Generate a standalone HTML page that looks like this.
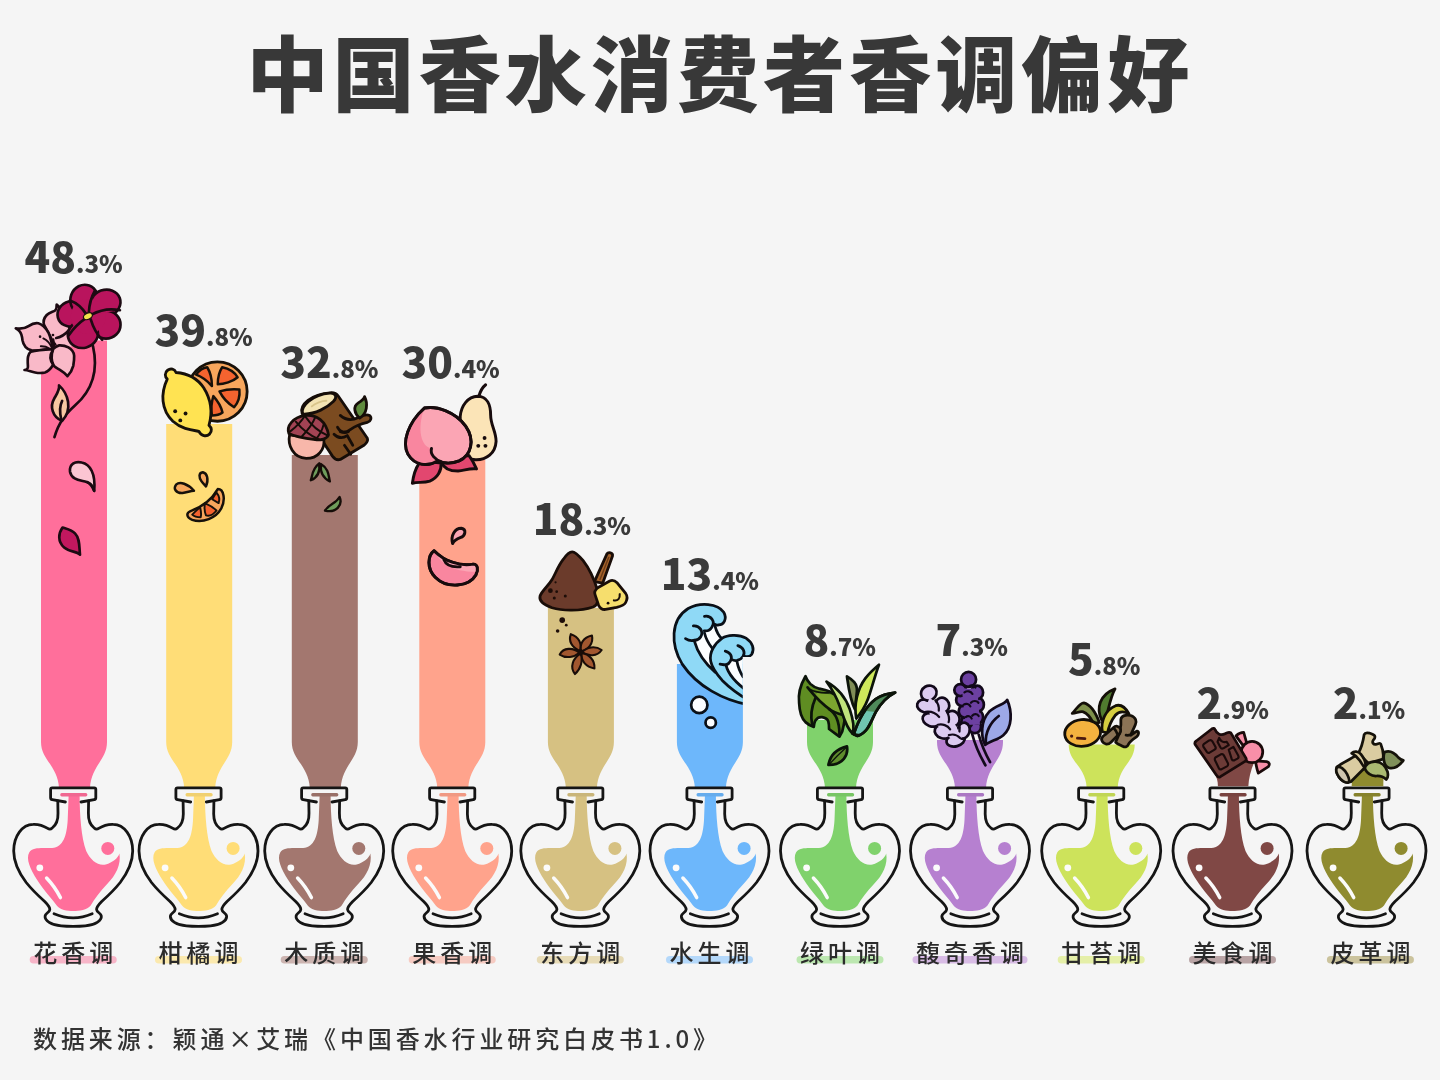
<!DOCTYPE html>
<html lang="zh-CN">
<head>
<meta charset="utf-8">
<title>中国香水消费者香调偏好</title>
<style>
html,body{margin:0;padding:0;background:#f5f5f5;}
body{width:1440px;height:1080px;overflow:hidden;position:relative;font-family:"Liberation Sans","Noto Sans CJK SC",sans-serif;}
svg{position:absolute;left:0;top:0;display:block;}
h1{position:absolute;left:0;top:0;width:1440px;margin:0;text-align:center;font-family:"Liberation Sans","Noto Sans CJK SC",sans-serif;font-weight:900;font-size:82px;line-height:120px;letter-spacing:4.1px;text-indent:0px;color:#383838;top:17.4px;white-space:nowrap;}
.foot{position:absolute;left:33px;top:1017.8px;margin:0;font-family:"Noto Sans CJK SC","Liberation Sans",sans-serif;font-weight:500;font-size:24px;line-height:40px;letter-spacing:3.9px;color:#333;white-space:nowrap;}
.lab{font-family:"Liberation Sans","Noto Sans CJK SC",sans-serif;font-weight:500;font-size:24px;letter-spacing:4px;fill:#2b2b2b;}
.num{font-family:"Noto Sans CJK SC","Liberation Sans",sans-serif;font-weight:900;fill:#3a3a3a;}
.big{font-size:42.3px;}
.sm{font-size:24px;}
</style>
</head>
<body>
<h1>中国香水消费者香调偏好</h1>
<svg width="1440" height="1080" viewBox="0 0 1440 1080">
<!-- 1 花香调 -->
<path transform="translate(74.0,0)" d="M-33,340.5 H33 V742 C33,760 17,766 16,788 H-15 C-16,766 -33,760 -33,742 Z" fill="#ff6f9b"/>
<g transform="translate(73.2,0)">
<path d="M-11.5,793 H12.6 Q14.2,793 14.2,794.8 Q14.2,796.6 12.6,796.6 H6.4 C6.6,815 8,838 13,851 C17,860 25,866.5 32.5,864.5 C39.5,862.5 45,858 46.2,853.5 C48,864 43,875 33.5,884.5 C27,891.5 21,899 17.5,905.5 C14,910 6,911 0,911 C-6,911 -13,910 -16.5,905.5 C-21,899 -29,891 -36,880 C-43,869 -47.5,859 -44,852.5 C-40,846.5 -30,848.5 -21,848 C-10,847 -6.5,836 -5.5,820 L-4.6,796.6 H-11.5 Q-13,796.6 -13,794.8 Q-13,793 -11.5,793 Z" fill="#ff6f9b"/>
<rect x="-13" y="793" width="27.2" height="3.6" rx="1.8" fill="#000" opacity="0.06"/>
<circle cx="34.6" cy="848.4" r="6.5" fill="#ff6f9b"/>
<circle cx="-33.4" cy="867.8" r="3.4" fill="#fbfbfb"/>
<path d="M-26.6,878 Q-18,887 -12.8,897.6" stroke="#fbfbfb" stroke-width="3.5" stroke-linecap="round" fill="none"/>
<path d="M-7.8,802 L-21,799.6 Q-22.6,799.3 -22.6,797.7 V789.4 Q-22.6,787.8 -21,787.8 H21 Q22.6,787.8 22.6,789.4 V797.7 Q22.6,799.3 21,799.6 L7.8,802" fill="none" stroke="#151515" stroke-width="2.8" stroke-linecap="round" stroke-linejoin="round"/>
<path d="M-15.4,801 L-15.2,813 C-15,820 -17,825 -21,828 C-22.5,829.4 -24,829.4 -25.5,828.4 C-30,825.6 -35,824.2 -40,824.4 C-51,824.5 -59.5,836 -59.5,851 C-59.5,862 -54.5,872.5 -47,882.5 C-41,890 -33.5,897 -28.5,901.5 C-25,905 -23.2,907 -23.4,909.6 C-23.7,912.5 -27.6,913 -28.1,916 C-28.7,920.5 -22,925.2 -12,925.9 C-8,926.3 -4,926.4 0,926.4 C4,926.4 8,926.3 12,925.9 C22,925.2 28.7,920.5 28.1,916 C27.6,913 23.7,912.5 23.4,909.6 C23.2,907 25,905 28.5,901.5 C33.5,897 41,890 47,882.5 C54.5,872.5 59.5,862 59.5,851 C59.5,836 51,824.5 40,824.4 C35,824.2 30,825.6 25.5,828.4 C24,829.4 22.5,829.4 21,828 C17,825 15,820 15.2,813 L15.4,801" fill="none" stroke="#151515" stroke-width="2.8" stroke-linecap="round" stroke-linejoin="round"/>
<path d="M-19.2,913.8 Q0,922 19,913.8" fill="none" stroke="#151515" stroke-width="2.8" stroke-linecap="round"/>
</g>
<rect x="29.7" y="956" width="87.0" height="7.5" rx="3.75" fill="#f7b5c8"/><text x="33.2" y="961.5" class="lab">花香调</text>
<text x="24.5" y="273" class="num"><tspan class="big">48</tspan><tspan class="sm">.3%</tspan></text>
<!-- 2 柑橘调 -->
<path transform="translate(199.2,0)" d="M-33,424 H33 V742 C33,760 17,766 16,788 H-15 C-16,766 -33,760 -33,742 Z" fill="#ffdd77"/>
<g transform="translate(198.5,0)">
<path d="M-11.5,793 H12.6 Q14.2,793 14.2,794.8 Q14.2,796.6 12.6,796.6 H6.4 C6.6,815 8,838 13,851 C17,860 25,866.5 32.5,864.5 C39.5,862.5 45,858 46.2,853.5 C48,864 43,875 33.5,884.5 C27,891.5 21,899 17.5,905.5 C14,910 6,911 0,911 C-6,911 -13,910 -16.5,905.5 C-21,899 -29,891 -36,880 C-43,869 -47.5,859 -44,852.5 C-40,846.5 -30,848.5 -21,848 C-10,847 -6.5,836 -5.5,820 L-4.6,796.6 H-11.5 Q-13,796.6 -13,794.8 Q-13,793 -11.5,793 Z" fill="#ffdd77"/>
<rect x="-13" y="793" width="27.2" height="3.6" rx="1.8" fill="#000" opacity="0.06"/>
<circle cx="34.6" cy="848.4" r="6.5" fill="#ffdd77"/>
<circle cx="-33.4" cy="867.8" r="3.4" fill="#fbfbfb"/>
<path d="M-26.6,878 Q-18,887 -12.8,897.6" stroke="#fbfbfb" stroke-width="3.5" stroke-linecap="round" fill="none"/>
<path d="M-7.8,802 L-21,799.6 Q-22.6,799.3 -22.6,797.7 V789.4 Q-22.6,787.8 -21,787.8 H21 Q22.6,787.8 22.6,789.4 V797.7 Q22.6,799.3 21,799.6 L7.8,802" fill="none" stroke="#151515" stroke-width="2.8" stroke-linecap="round" stroke-linejoin="round"/>
<path d="M-15.4,801 L-15.2,813 C-15,820 -17,825 -21,828 C-22.5,829.4 -24,829.4 -25.5,828.4 C-30,825.6 -35,824.2 -40,824.4 C-51,824.5 -59.5,836 -59.5,851 C-59.5,862 -54.5,872.5 -47,882.5 C-41,890 -33.5,897 -28.5,901.5 C-25,905 -23.2,907 -23.4,909.6 C-23.7,912.5 -27.6,913 -28.1,916 C-28.7,920.5 -22,925.2 -12,925.9 C-8,926.3 -4,926.4 0,926.4 C4,926.4 8,926.3 12,925.9 C22,925.2 28.7,920.5 28.1,916 C27.6,913 23.7,912.5 23.4,909.6 C23.2,907 25,905 28.5,901.5 C33.5,897 41,890 47,882.5 C54.5,872.5 59.5,862 59.5,851 C59.5,836 51,824.5 40,824.4 C35,824.2 30,825.6 25.5,828.4 C24,829.4 22.5,829.4 21,828 C17,825 15,820 15.2,813 L15.4,801" fill="none" stroke="#151515" stroke-width="2.8" stroke-linecap="round" stroke-linejoin="round"/>
<path d="M-19.2,913.8 Q0,922 19,913.8" fill="none" stroke="#151515" stroke-width="2.8" stroke-linecap="round"/>
</g>
<rect x="155.0" y="956" width="87.0" height="7.5" rx="3.75" fill="#fbe9ae"/><text x="158.5" y="961.5" class="lab">柑橘调</text>
<text x="154.5" y="345.6" class="num"><tspan class="big">39</tspan><tspan class="sm">.8%</tspan></text>
<!-- 3 木质调 -->
<path transform="translate(324.8,0)" d="M-33,455 H33 V742 C33,760 17,766 16,788 H-15 C-16,766 -33,760 -33,742 Z" fill="#a3776f"/>
<g transform="translate(324.2,0)">
<path d="M-11.5,793 H12.6 Q14.2,793 14.2,794.8 Q14.2,796.6 12.6,796.6 H6.4 C6.6,815 8,838 13,851 C17,860 25,866.5 32.5,864.5 C39.5,862.5 45,858 46.2,853.5 C48,864 43,875 33.5,884.5 C27,891.5 21,899 17.5,905.5 C14,910 6,911 0,911 C-6,911 -13,910 -16.5,905.5 C-21,899 -29,891 -36,880 C-43,869 -47.5,859 -44,852.5 C-40,846.5 -30,848.5 -21,848 C-10,847 -6.5,836 -5.5,820 L-4.6,796.6 H-11.5 Q-13,796.6 -13,794.8 Q-13,793 -11.5,793 Z" fill="#a3776f"/>
<rect x="-13" y="793" width="27.2" height="3.6" rx="1.8" fill="#000" opacity="0.06"/>
<circle cx="34.6" cy="848.4" r="6.5" fill="#a3776f"/>
<circle cx="-33.4" cy="867.8" r="3.4" fill="#fbfbfb"/>
<path d="M-26.6,878 Q-18,887 -12.8,897.6" stroke="#fbfbfb" stroke-width="3.5" stroke-linecap="round" fill="none"/>
<path d="M-7.8,802 L-21,799.6 Q-22.6,799.3 -22.6,797.7 V789.4 Q-22.6,787.8 -21,787.8 H21 Q22.6,787.8 22.6,789.4 V797.7 Q22.6,799.3 21,799.6 L7.8,802" fill="none" stroke="#151515" stroke-width="2.8" stroke-linecap="round" stroke-linejoin="round"/>
<path d="M-15.4,801 L-15.2,813 C-15,820 -17,825 -21,828 C-22.5,829.4 -24,829.4 -25.5,828.4 C-30,825.6 -35,824.2 -40,824.4 C-51,824.5 -59.5,836 -59.5,851 C-59.5,862 -54.5,872.5 -47,882.5 C-41,890 -33.5,897 -28.5,901.5 C-25,905 -23.2,907 -23.4,909.6 C-23.7,912.5 -27.6,913 -28.1,916 C-28.7,920.5 -22,925.2 -12,925.9 C-8,926.3 -4,926.4 0,926.4 C4,926.4 8,926.3 12,925.9 C22,925.2 28.7,920.5 28.1,916 C27.6,913 23.7,912.5 23.4,909.6 C23.2,907 25,905 28.5,901.5 C33.5,897 41,890 47,882.5 C54.5,872.5 59.5,862 59.5,851 C59.5,836 51,824.5 40,824.4 C35,824.2 30,825.6 25.5,828.4 C24,829.4 22.5,829.4 21,828 C17,825 15,820 15.2,813 L15.4,801" fill="none" stroke="#151515" stroke-width="2.8" stroke-linecap="round" stroke-linejoin="round"/>
<path d="M-19.2,913.8 Q0,922 19,913.8" fill="none" stroke="#151515" stroke-width="2.8" stroke-linecap="round"/>
</g>
<rect x="280.7" y="956" width="87.0" height="7.5" rx="3.75" fill="#ccb4b0"/><text x="284.2" y="961.5" class="lab">木质调</text>
<text x="280.2" y="377.6" class="num"><tspan class="big">32</tspan><tspan class="sm">.8%</tspan></text>
<!-- 4 果香调 -->
<path transform="translate(452.3,0)" d="M-33,460 H33 V742 C33,760 17,766 16,788 H-15 C-16,766 -33,760 -33,742 Z" fill="#ffa38c"/>
<g transform="translate(452.2,0)">
<path d="M-11.5,793 H12.6 Q14.2,793 14.2,794.8 Q14.2,796.6 12.6,796.6 H6.4 C6.6,815 8,838 13,851 C17,860 25,866.5 32.5,864.5 C39.5,862.5 45,858 46.2,853.5 C48,864 43,875 33.5,884.5 C27,891.5 21,899 17.5,905.5 C14,910 6,911 0,911 C-6,911 -13,910 -16.5,905.5 C-21,899 -29,891 -36,880 C-43,869 -47.5,859 -44,852.5 C-40,846.5 -30,848.5 -21,848 C-10,847 -6.5,836 -5.5,820 L-4.6,796.6 H-11.5 Q-13,796.6 -13,794.8 Q-13,793 -11.5,793 Z" fill="#ffa38c"/>
<rect x="-13" y="793" width="27.2" height="3.6" rx="1.8" fill="#000" opacity="0.06"/>
<circle cx="34.6" cy="848.4" r="6.5" fill="#ffa38c"/>
<circle cx="-33.4" cy="867.8" r="3.4" fill="#fbfbfb"/>
<path d="M-26.6,878 Q-18,887 -12.8,897.6" stroke="#fbfbfb" stroke-width="3.5" stroke-linecap="round" fill="none"/>
<path d="M-7.8,802 L-21,799.6 Q-22.6,799.3 -22.6,797.7 V789.4 Q-22.6,787.8 -21,787.8 H21 Q22.6,787.8 22.6,789.4 V797.7 Q22.6,799.3 21,799.6 L7.8,802" fill="none" stroke="#151515" stroke-width="2.8" stroke-linecap="round" stroke-linejoin="round"/>
<path d="M-15.4,801 L-15.2,813 C-15,820 -17,825 -21,828 C-22.5,829.4 -24,829.4 -25.5,828.4 C-30,825.6 -35,824.2 -40,824.4 C-51,824.5 -59.5,836 -59.5,851 C-59.5,862 -54.5,872.5 -47,882.5 C-41,890 -33.5,897 -28.5,901.5 C-25,905 -23.2,907 -23.4,909.6 C-23.7,912.5 -27.6,913 -28.1,916 C-28.7,920.5 -22,925.2 -12,925.9 C-8,926.3 -4,926.4 0,926.4 C4,926.4 8,926.3 12,925.9 C22,925.2 28.7,920.5 28.1,916 C27.6,913 23.7,912.5 23.4,909.6 C23.2,907 25,905 28.5,901.5 C33.5,897 41,890 47,882.5 C54.5,872.5 59.5,862 59.5,851 C59.5,836 51,824.5 40,824.4 C35,824.2 30,825.6 25.5,828.4 C24,829.4 22.5,829.4 21,828 C17,825 15,820 15.2,813 L15.4,801" fill="none" stroke="#151515" stroke-width="2.8" stroke-linecap="round" stroke-linejoin="round"/>
<path d="M-19.2,913.8 Q0,922 19,913.8" fill="none" stroke="#151515" stroke-width="2.8" stroke-linecap="round"/>
</g>
<rect x="408.7" y="956" width="87.0" height="7.5" rx="3.75" fill="#f6cbc2"/><text x="412.2" y="961.5" class="lab">果香调</text>
<text x="401.5" y="377.6" class="num"><tspan class="big">30</tspan><tspan class="sm">.4%</tspan></text>
<!-- 5 东方调 -->
<path transform="translate(580.9,0)" d="M-33,608 H33 V742 C33,760 17,766 16,788 H-15 C-16,766 -33,760 -33,742 Z" fill="#d6c182"/>
<g transform="translate(580.3,0)">
<path d="M-11.5,793 H12.6 Q14.2,793 14.2,794.8 Q14.2,796.6 12.6,796.6 H6.4 C6.6,815 8,838 13,851 C17,860 25,866.5 32.5,864.5 C39.5,862.5 45,858 46.2,853.5 C48,864 43,875 33.5,884.5 C27,891.5 21,899 17.5,905.5 C14,910 6,911 0,911 C-6,911 -13,910 -16.5,905.5 C-21,899 -29,891 -36,880 C-43,869 -47.5,859 -44,852.5 C-40,846.5 -30,848.5 -21,848 C-10,847 -6.5,836 -5.5,820 L-4.6,796.6 H-11.5 Q-13,796.6 -13,794.8 Q-13,793 -11.5,793 Z" fill="#d6c182"/>
<rect x="-13" y="793" width="27.2" height="3.6" rx="1.8" fill="#000" opacity="0.06"/>
<circle cx="34.6" cy="848.4" r="6.5" fill="#d6c182"/>
<circle cx="-33.4" cy="867.8" r="3.4" fill="#fbfbfb"/>
<path d="M-26.6,878 Q-18,887 -12.8,897.6" stroke="#fbfbfb" stroke-width="3.5" stroke-linecap="round" fill="none"/>
<path d="M-7.8,802 L-21,799.6 Q-22.6,799.3 -22.6,797.7 V789.4 Q-22.6,787.8 -21,787.8 H21 Q22.6,787.8 22.6,789.4 V797.7 Q22.6,799.3 21,799.6 L7.8,802" fill="none" stroke="#151515" stroke-width="2.8" stroke-linecap="round" stroke-linejoin="round"/>
<path d="M-15.4,801 L-15.2,813 C-15,820 -17,825 -21,828 C-22.5,829.4 -24,829.4 -25.5,828.4 C-30,825.6 -35,824.2 -40,824.4 C-51,824.5 -59.5,836 -59.5,851 C-59.5,862 -54.5,872.5 -47,882.5 C-41,890 -33.5,897 -28.5,901.5 C-25,905 -23.2,907 -23.4,909.6 C-23.7,912.5 -27.6,913 -28.1,916 C-28.7,920.5 -22,925.2 -12,925.9 C-8,926.3 -4,926.4 0,926.4 C4,926.4 8,926.3 12,925.9 C22,925.2 28.7,920.5 28.1,916 C27.6,913 23.7,912.5 23.4,909.6 C23.2,907 25,905 28.5,901.5 C33.5,897 41,890 47,882.5 C54.5,872.5 59.5,862 59.5,851 C59.5,836 51,824.5 40,824.4 C35,824.2 30,825.6 25.5,828.4 C24,829.4 22.5,829.4 21,828 C17,825 15,820 15.2,813 L15.4,801" fill="none" stroke="#151515" stroke-width="2.8" stroke-linecap="round" stroke-linejoin="round"/>
<path d="M-19.2,913.8 Q0,922 19,913.8" fill="none" stroke="#151515" stroke-width="2.8" stroke-linecap="round"/>
</g>
<rect x="536.8" y="956" width="87.0" height="7.5" rx="3.75" fill="#e7dbb6"/><text x="540.3" y="961.5" class="lab">东方调</text>
<text x="532.8" y="535.3" class="num"><tspan class="big">18</tspan><tspan class="sm">.3%</tspan></text>
<!-- 6 水生调 -->
<path transform="translate(709.9,0)" d="M-33,664 H33 V742 C33,760 17,766 16,788 H-15 C-16,766 -33,760 -33,742 Z" fill="#6db7fb"/>
<g transform="translate(709.5,0)">
<path d="M-11.5,793 H12.6 Q14.2,793 14.2,794.8 Q14.2,796.6 12.6,796.6 H6.4 C6.6,815 8,838 13,851 C17,860 25,866.5 32.5,864.5 C39.5,862.5 45,858 46.2,853.5 C48,864 43,875 33.5,884.5 C27,891.5 21,899 17.5,905.5 C14,910 6,911 0,911 C-6,911 -13,910 -16.5,905.5 C-21,899 -29,891 -36,880 C-43,869 -47.5,859 -44,852.5 C-40,846.5 -30,848.5 -21,848 C-10,847 -6.5,836 -5.5,820 L-4.6,796.6 H-11.5 Q-13,796.6 -13,794.8 Q-13,793 -11.5,793 Z" fill="#6db7fb"/>
<rect x="-13" y="793" width="27.2" height="3.6" rx="1.8" fill="#000" opacity="0.06"/>
<circle cx="34.6" cy="848.4" r="6.5" fill="#6db7fb"/>
<circle cx="-33.4" cy="867.8" r="3.4" fill="#fbfbfb"/>
<path d="M-26.6,878 Q-18,887 -12.8,897.6" stroke="#fbfbfb" stroke-width="3.5" stroke-linecap="round" fill="none"/>
<path d="M-7.8,802 L-21,799.6 Q-22.6,799.3 -22.6,797.7 V789.4 Q-22.6,787.8 -21,787.8 H21 Q22.6,787.8 22.6,789.4 V797.7 Q22.6,799.3 21,799.6 L7.8,802" fill="none" stroke="#151515" stroke-width="2.8" stroke-linecap="round" stroke-linejoin="round"/>
<path d="M-15.4,801 L-15.2,813 C-15,820 -17,825 -21,828 C-22.5,829.4 -24,829.4 -25.5,828.4 C-30,825.6 -35,824.2 -40,824.4 C-51,824.5 -59.5,836 -59.5,851 C-59.5,862 -54.5,872.5 -47,882.5 C-41,890 -33.5,897 -28.5,901.5 C-25,905 -23.2,907 -23.4,909.6 C-23.7,912.5 -27.6,913 -28.1,916 C-28.7,920.5 -22,925.2 -12,925.9 C-8,926.3 -4,926.4 0,926.4 C4,926.4 8,926.3 12,925.9 C22,925.2 28.7,920.5 28.1,916 C27.6,913 23.7,912.5 23.4,909.6 C23.2,907 25,905 28.5,901.5 C33.5,897 41,890 47,882.5 C54.5,872.5 59.5,862 59.5,851 C59.5,836 51,824.5 40,824.4 C35,824.2 30,825.6 25.5,828.4 C24,829.4 22.5,829.4 21,828 C17,825 15,820 15.2,813 L15.4,801" fill="none" stroke="#151515" stroke-width="2.8" stroke-linecap="round" stroke-linejoin="round"/>
<path d="M-19.2,913.8 Q0,922 19,913.8" fill="none" stroke="#151515" stroke-width="2.8" stroke-linecap="round"/>
</g>
<rect x="666.0" y="956" width="87.0" height="7.5" rx="3.75" fill="#b4d8fa"/><text x="669.5" y="961.5" class="lab">水生调</text>
<text x="660.7" y="590" class="num"><tspan class="big">13</tspan><tspan class="sm">.4%</tspan></text>
<!-- 7 绿叶调 -->
<path transform="translate(840.0,0)" d="M-33,720 H33 V742 C33,760 17,766 16,788 H-15 C-16,766 -33,760 -33,742 Z" fill="#80d26c"/>
<g transform="translate(840.0,0)">
<path d="M-11.5,793 H12.6 Q14.2,793 14.2,794.8 Q14.2,796.6 12.6,796.6 H6.4 C6.6,815 8,838 13,851 C17,860 25,866.5 32.5,864.5 C39.5,862.5 45,858 46.2,853.5 C48,864 43,875 33.5,884.5 C27,891.5 21,899 17.5,905.5 C14,910 6,911 0,911 C-6,911 -13,910 -16.5,905.5 C-21,899 -29,891 -36,880 C-43,869 -47.5,859 -44,852.5 C-40,846.5 -30,848.5 -21,848 C-10,847 -6.5,836 -5.5,820 L-4.6,796.6 H-11.5 Q-13,796.6 -13,794.8 Q-13,793 -11.5,793 Z" fill="#80d26c"/>
<rect x="-13" y="793" width="27.2" height="3.6" rx="1.8" fill="#000" opacity="0.06"/>
<circle cx="34.6" cy="848.4" r="6.5" fill="#80d26c"/>
<circle cx="-33.4" cy="867.8" r="3.4" fill="#fbfbfb"/>
<path d="M-26.6,878 Q-18,887 -12.8,897.6" stroke="#fbfbfb" stroke-width="3.5" stroke-linecap="round" fill="none"/>
<path d="M-7.8,802 L-21,799.6 Q-22.6,799.3 -22.6,797.7 V789.4 Q-22.6,787.8 -21,787.8 H21 Q22.6,787.8 22.6,789.4 V797.7 Q22.6,799.3 21,799.6 L7.8,802" fill="none" stroke="#151515" stroke-width="2.8" stroke-linecap="round" stroke-linejoin="round"/>
<path d="M-15.4,801 L-15.2,813 C-15,820 -17,825 -21,828 C-22.5,829.4 -24,829.4 -25.5,828.4 C-30,825.6 -35,824.2 -40,824.4 C-51,824.5 -59.5,836 -59.5,851 C-59.5,862 -54.5,872.5 -47,882.5 C-41,890 -33.5,897 -28.5,901.5 C-25,905 -23.2,907 -23.4,909.6 C-23.7,912.5 -27.6,913 -28.1,916 C-28.7,920.5 -22,925.2 -12,925.9 C-8,926.3 -4,926.4 0,926.4 C4,926.4 8,926.3 12,925.9 C22,925.2 28.7,920.5 28.1,916 C27.6,913 23.7,912.5 23.4,909.6 C23.2,907 25,905 28.5,901.5 C33.5,897 41,890 47,882.5 C54.5,872.5 59.5,862 59.5,851 C59.5,836 51,824.5 40,824.4 C35,824.2 30,825.6 25.5,828.4 C24,829.4 22.5,829.4 21,828 C17,825 15,820 15.2,813 L15.4,801" fill="none" stroke="#151515" stroke-width="2.8" stroke-linecap="round" stroke-linejoin="round"/>
<path d="M-19.2,913.8 Q0,922 19,913.8" fill="none" stroke="#151515" stroke-width="2.8" stroke-linecap="round"/>
</g>
<rect x="796.5" y="956" width="87.0" height="7.5" rx="3.75" fill="#bce7b0"/><text x="800.0" y="961.5" class="lab">绿叶调</text>
<text x="803.5" y="655.6" class="num"><tspan class="big">8</tspan><tspan class="sm">.7%</tspan></text>
<!-- 8 馥奇香调 -->
<path transform="translate(970.0,0)" d="M-33,740 H33 V742 C33,760 17,766 16,788 H-15 C-16,766 -33,760 -33,742 Z" fill="#b680d0"/>
<g transform="translate(970.0,0)">
<path d="M-11.5,793 H12.6 Q14.2,793 14.2,794.8 Q14.2,796.6 12.6,796.6 H6.4 C6.6,815 8,838 13,851 C17,860 25,866.5 32.5,864.5 C39.5,862.5 45,858 46.2,853.5 C48,864 43,875 33.5,884.5 C27,891.5 21,899 17.5,905.5 C14,910 6,911 0,911 C-6,911 -13,910 -16.5,905.5 C-21,899 -29,891 -36,880 C-43,869 -47.5,859 -44,852.5 C-40,846.5 -30,848.5 -21,848 C-10,847 -6.5,836 -5.5,820 L-4.6,796.6 H-11.5 Q-13,796.6 -13,794.8 Q-13,793 -11.5,793 Z" fill="#b680d0"/>
<rect x="-13" y="793" width="27.2" height="3.6" rx="1.8" fill="#000" opacity="0.06"/>
<circle cx="34.6" cy="848.4" r="6.5" fill="#b680d0"/>
<circle cx="-33.4" cy="867.8" r="3.4" fill="#fbfbfb"/>
<path d="M-26.6,878 Q-18,887 -12.8,897.6" stroke="#fbfbfb" stroke-width="3.5" stroke-linecap="round" fill="none"/>
<path d="M-7.8,802 L-21,799.6 Q-22.6,799.3 -22.6,797.7 V789.4 Q-22.6,787.8 -21,787.8 H21 Q22.6,787.8 22.6,789.4 V797.7 Q22.6,799.3 21,799.6 L7.8,802" fill="none" stroke="#151515" stroke-width="2.8" stroke-linecap="round" stroke-linejoin="round"/>
<path d="M-15.4,801 L-15.2,813 C-15,820 -17,825 -21,828 C-22.5,829.4 -24,829.4 -25.5,828.4 C-30,825.6 -35,824.2 -40,824.4 C-51,824.5 -59.5,836 -59.5,851 C-59.5,862 -54.5,872.5 -47,882.5 C-41,890 -33.5,897 -28.5,901.5 C-25,905 -23.2,907 -23.4,909.6 C-23.7,912.5 -27.6,913 -28.1,916 C-28.7,920.5 -22,925.2 -12,925.9 C-8,926.3 -4,926.4 0,926.4 C4,926.4 8,926.3 12,925.9 C22,925.2 28.7,920.5 28.1,916 C27.6,913 23.7,912.5 23.4,909.6 C23.2,907 25,905 28.5,901.5 C33.5,897 41,890 47,882.5 C54.5,872.5 59.5,862 59.5,851 C59.5,836 51,824.5 40,824.4 C35,824.2 30,825.6 25.5,828.4 C24,829.4 22.5,829.4 21,828 C17,825 15,820 15.2,813 L15.4,801" fill="none" stroke="#151515" stroke-width="2.8" stroke-linecap="round" stroke-linejoin="round"/>
<path d="M-19.2,913.8 Q0,922 19,913.8" fill="none" stroke="#151515" stroke-width="2.8" stroke-linecap="round"/>
</g>
<rect x="912.5" y="956" width="115.0" height="7.5" rx="3.75" fill="#d8bce5"/><text x="916.0" y="961.5" class="lab">馥奇香调</text>
<text x="935.5" y="655.6" class="num"><tspan class="big">7</tspan><tspan class="sm">.3%</tspan></text>
<!-- 9 甘苔调 -->
<path transform="translate(1101.7,0)" d="M-33,744.5 H33 V744.5 C33,762.5 17,766 16,788 H-15 C-16,766 -33,762.5 -33,744.5 Z" fill="#cde35b"/>
<g transform="translate(1101.2,0)">
<path d="M-11.5,793 H12.6 Q14.2,793 14.2,794.8 Q14.2,796.6 12.6,796.6 H6.4 C6.6,815 8,838 13,851 C17,860 25,866.5 32.5,864.5 C39.5,862.5 45,858 46.2,853.5 C48,864 43,875 33.5,884.5 C27,891.5 21,899 17.5,905.5 C14,910 6,911 0,911 C-6,911 -13,910 -16.5,905.5 C-21,899 -29,891 -36,880 C-43,869 -47.5,859 -44,852.5 C-40,846.5 -30,848.5 -21,848 C-10,847 -6.5,836 -5.5,820 L-4.6,796.6 H-11.5 Q-13,796.6 -13,794.8 Q-13,793 -11.5,793 Z" fill="#cde35b"/>
<rect x="-13" y="793" width="27.2" height="3.6" rx="1.8" fill="#000" opacity="0.06"/>
<circle cx="34.6" cy="848.4" r="6.5" fill="#cde35b"/>
<circle cx="-33.4" cy="867.8" r="3.4" fill="#fbfbfb"/>
<path d="M-26.6,878 Q-18,887 -12.8,897.6" stroke="#fbfbfb" stroke-width="3.5" stroke-linecap="round" fill="none"/>
<path d="M-7.8,802 L-21,799.6 Q-22.6,799.3 -22.6,797.7 V789.4 Q-22.6,787.8 -21,787.8 H21 Q22.6,787.8 22.6,789.4 V797.7 Q22.6,799.3 21,799.6 L7.8,802" fill="none" stroke="#151515" stroke-width="2.8" stroke-linecap="round" stroke-linejoin="round"/>
<path d="M-15.4,801 L-15.2,813 C-15,820 -17,825 -21,828 C-22.5,829.4 -24,829.4 -25.5,828.4 C-30,825.6 -35,824.2 -40,824.4 C-51,824.5 -59.5,836 -59.5,851 C-59.5,862 -54.5,872.5 -47,882.5 C-41,890 -33.5,897 -28.5,901.5 C-25,905 -23.2,907 -23.4,909.6 C-23.7,912.5 -27.6,913 -28.1,916 C-28.7,920.5 -22,925.2 -12,925.9 C-8,926.3 -4,926.4 0,926.4 C4,926.4 8,926.3 12,925.9 C22,925.2 28.7,920.5 28.1,916 C27.6,913 23.7,912.5 23.4,909.6 C23.2,907 25,905 28.5,901.5 C33.5,897 41,890 47,882.5 C54.5,872.5 59.5,862 59.5,851 C59.5,836 51,824.5 40,824.4 C35,824.2 30,825.6 25.5,828.4 C24,829.4 22.5,829.4 21,828 C17,825 15,820 15.2,813 L15.4,801" fill="none" stroke="#151515" stroke-width="2.8" stroke-linecap="round" stroke-linejoin="round"/>
<path d="M-19.2,913.8 Q0,922 19,913.8" fill="none" stroke="#151515" stroke-width="2.8" stroke-linecap="round"/>
</g>
<rect x="1057.7" y="956" width="87.0" height="7.5" rx="3.75" fill="#e5efa8"/><text x="1061.2" y="961.5" class="lab">甘苔调</text>
<text x="1068" y="675.2" class="num"><tspan class="big">5</tspan><tspan class="sm">.8%</tspan></text>
<!-- 10 美食调 -->

<g transform="translate(1232.5,0)">
<path d="M-11.5,793 H12.6 Q14.2,793 14.2,794.8 Q14.2,796.6 12.6,796.6 H6.4 C6.6,815 8,838 13,851 C17,860 25,866.5 32.5,864.5 C39.5,862.5 45,858 46.2,853.5 C48,864 43,875 33.5,884.5 C27,891.5 21,899 17.5,905.5 C14,910 6,911 0,911 C-6,911 -13,910 -16.5,905.5 C-21,899 -29,891 -36,880 C-43,869 -47.5,859 -44,852.5 C-40,846.5 -30,848.5 -21,848 C-10,847 -6.5,836 -5.5,820 L-4.6,796.6 H-11.5 Q-13,796.6 -13,794.8 Q-13,793 -11.5,793 Z" fill="#804845"/>
<rect x="-13" y="793" width="27.2" height="3.6" rx="1.8" fill="#000" opacity="0.06"/>
<circle cx="34.6" cy="848.4" r="6.5" fill="#804845"/>
<circle cx="-33.4" cy="867.8" r="3.4" fill="#fbfbfb"/>
<path d="M-26.6,878 Q-18,887 -12.8,897.6" stroke="#fbfbfb" stroke-width="3.5" stroke-linecap="round" fill="none"/>
<path d="M-7.8,802 L-21,799.6 Q-22.6,799.3 -22.6,797.7 V789.4 Q-22.6,787.8 -21,787.8 H21 Q22.6,787.8 22.6,789.4 V797.7 Q22.6,799.3 21,799.6 L7.8,802" fill="none" stroke="#151515" stroke-width="2.8" stroke-linecap="round" stroke-linejoin="round"/>
<path d="M-15.4,801 L-15.2,813 C-15,820 -17,825 -21,828 C-22.5,829.4 -24,829.4 -25.5,828.4 C-30,825.6 -35,824.2 -40,824.4 C-51,824.5 -59.5,836 -59.5,851 C-59.5,862 -54.5,872.5 -47,882.5 C-41,890 -33.5,897 -28.5,901.5 C-25,905 -23.2,907 -23.4,909.6 C-23.7,912.5 -27.6,913 -28.1,916 C-28.7,920.5 -22,925.2 -12,925.9 C-8,926.3 -4,926.4 0,926.4 C4,926.4 8,926.3 12,925.9 C22,925.2 28.7,920.5 28.1,916 C27.6,913 23.7,912.5 23.4,909.6 C23.2,907 25,905 28.5,901.5 C33.5,897 41,890 47,882.5 C54.5,872.5 59.5,862 59.5,851 C59.5,836 51,824.5 40,824.4 C35,824.2 30,825.6 25.5,828.4 C24,829.4 22.5,829.4 21,828 C17,825 15,820 15.2,813 L15.4,801" fill="none" stroke="#151515" stroke-width="2.8" stroke-linecap="round" stroke-linejoin="round"/>
<path d="M-19.2,913.8 Q0,922 19,913.8" fill="none" stroke="#151515" stroke-width="2.8" stroke-linecap="round"/>
</g>
<rect x="1189.0" y="956" width="87.0" height="7.5" rx="3.75" fill="#b9a4a5"/><text x="1192.5" y="961.5" class="lab">美食调</text>
<text x="1196.5" y="718.8" class="num"><tspan class="big">2</tspan><tspan class="sm">.9%</tspan></text>
<!-- 11 皮革调 -->

<g transform="translate(1366.5,0)">
<path d="M-11.5,793 H12.6 Q14.2,793 14.2,794.8 Q14.2,796.6 12.6,796.6 H6.4 C6.6,815 8,838 13,851 C17,860 25,866.5 32.5,864.5 C39.5,862.5 45,858 46.2,853.5 C48,864 43,875 33.5,884.5 C27,891.5 21,899 17.5,905.5 C14,910 6,911 0,911 C-6,911 -13,910 -16.5,905.5 C-21,899 -29,891 -36,880 C-43,869 -47.5,859 -44,852.5 C-40,846.5 -30,848.5 -21,848 C-10,847 -6.5,836 -5.5,820 L-4.6,796.6 H-11.5 Q-13,796.6 -13,794.8 Q-13,793 -11.5,793 Z" fill="#8f8b2f"/>
<rect x="-13" y="793" width="27.2" height="3.6" rx="1.8" fill="#000" opacity="0.06"/>
<circle cx="34.6" cy="848.4" r="6.5" fill="#8f8b2f"/>
<circle cx="-33.4" cy="867.8" r="3.4" fill="#fbfbfb"/>
<path d="M-26.6,878 Q-18,887 -12.8,897.6" stroke="#fbfbfb" stroke-width="3.5" stroke-linecap="round" fill="none"/>
<path d="M-7.8,802 L-21,799.6 Q-22.6,799.3 -22.6,797.7 V789.4 Q-22.6,787.8 -21,787.8 H21 Q22.6,787.8 22.6,789.4 V797.7 Q22.6,799.3 21,799.6 L7.8,802" fill="none" stroke="#151515" stroke-width="2.8" stroke-linecap="round" stroke-linejoin="round"/>
<path d="M-15.4,801 L-15.2,813 C-15,820 -17,825 -21,828 C-22.5,829.4 -24,829.4 -25.5,828.4 C-30,825.6 -35,824.2 -40,824.4 C-51,824.5 -59.5,836 -59.5,851 C-59.5,862 -54.5,872.5 -47,882.5 C-41,890 -33.5,897 -28.5,901.5 C-25,905 -23.2,907 -23.4,909.6 C-23.7,912.5 -27.6,913 -28.1,916 C-28.7,920.5 -22,925.2 -12,925.9 C-8,926.3 -4,926.4 0,926.4 C4,926.4 8,926.3 12,925.9 C22,925.2 28.7,920.5 28.1,916 C27.6,913 23.7,912.5 23.4,909.6 C23.2,907 25,905 28.5,901.5 C33.5,897 41,890 47,882.5 C54.5,872.5 59.5,862 59.5,851 C59.5,836 51,824.5 40,824.4 C35,824.2 30,825.6 25.5,828.4 C24,829.4 22.5,829.4 21,828 C17,825 15,820 15.2,813 L15.4,801" fill="none" stroke="#151515" stroke-width="2.8" stroke-linecap="round" stroke-linejoin="round"/>
<path d="M-19.2,913.8 Q0,922 19,913.8" fill="none" stroke="#151515" stroke-width="2.8" stroke-linecap="round"/>
</g>
<rect x="1326.9" y="956" width="87.0" height="7.5" rx="3.75" fill="#cbc39d"/><text x="1330.4" y="961.5" class="lab">皮革调</text>
<text x="1332.8" y="718.8" class="num"><tspan class="big">2</tspan><tspan class="sm">.1%</tspan></text>
<!-- icon 01_flower.svg -->
<g transform="translate(10,275) scale(0.148148)" stroke="#1c0a12" stroke-width="18" stroke-linecap="round" stroke-linejoin="round" fill="none">
  <!-- stem -->
  <path d="M560,480 C590,610 575,760 440,880 C380,935 330,990 300,1095"/>
  <!-- leaf -->
  <path d="M352,985 C285,960 268,885 298,835 C318,800 336,775 331,745 C392,800 425,905 352,985 Z" fill="#f8c7a2"/>
  <path d="M346,975 C334,925 334,885 352,850"/>
  <!-- pink lily: back petals -->
  <path d="M231,338 C222,315 225,295 248,270 C268,250 298,248 306,238 C314,228 316,215 315,200 C345,225 372,262 378,300 L420,400 L300,470 Z" fill="#f9b9c8"/>
  <path d="M300,440 C330,425 365,420 400,385 L470,470 L330,500 Z" fill="#f9b9c8" stroke="none"/>
  <path d="M312,425 C335,422 362,412 405,366"/>
  <!-- upper-left petal -->
  <path d="M39,360 C75,365 100,362 125,345 C150,328 170,322 191,326 C215,332 245,365 259,388 C270,410 276,428 290,500 C270,502 250,503 236,503 C200,508 170,512 146,509 C125,505 115,498 104,485 C90,465 86,455 84,440 C82,415 78,395 65,380 C58,372 50,366 39,360 Z" fill="#f9b9c8"/>
  <!-- lower-left petal -->
  <path d="M98,641 C115,640 122,632 121,615 C119,590 118,570 122,551 C126,535 132,525 141,517 C170,510 210,505 290,500 C310,560 305,600 287,613 C270,640 255,652 236,658 C212,664 190,662 169,658 C145,654 120,642 98,641 Z" fill="#f9b9c8"/>
  <!-- lower-right petal -->
  <path d="M388,683 C372,665 355,652 337,641 C315,628 300,618 292,607 C280,580 278,540 290,500 C305,485 318,478 332,475 C355,474 378,480 394,489 C420,505 432,520 433,545 C434,575 430,595 427,613 C420,640 405,665 388,683 Z" fill="#f9b9c8"/>
  <path d="M290,506 C268,540 268,575 292,605" />
  <!-- stamens -->
  <g stroke-width="13">
    <path d="M225,428 C250,440 270,460 283,492"/>
    <path d="M293,433 C297,450 298,468 297,486"/>
    <path d="M208,481 C230,480 250,486 266,496"/>
  </g>
  <circle cx="203" cy="416" r="9" fill="#1c0a12" stroke="none"/>
  <circle cx="290" cy="405" r="9" fill="#1c0a12" stroke="none"/>
  <!-- dark flower petals -->
  <g fill="#b9145d">
    <ellipse cx="418" cy="262" rx="98" ry="86" transform="rotate(-15 418 262)"/>
    <ellipse cx="500" cy="165" rx="92" ry="100" transform="rotate(20 500 165)"/>
    <ellipse cx="645" cy="190" rx="102" ry="90" transform="rotate(-20 645 190)"/>
    <ellipse cx="648" cy="335" rx="98" ry="94"/>
    <ellipse cx="492" cy="400" rx="102" ry="92" transform="rotate(-15 492 400)"/>
    <circle cx="528" cy="280" r="118" stroke="none"/>
    <path d="M515,265 C490,225 455,190 405,172"/>
    <path d="M532,255 C535,200 548,150 572,108"/>
    <path d="M550,268 C610,235 680,225 742,238"/>
    <path d="M545,300 C560,350 585,400 622,438"/>
    <path d="M508,295 C470,320 430,360 398,405"/>
  </g>
  <ellipse cx="526" cy="278" rx="32" ry="21" fill="#f1e14b" stroke-width="9" transform="rotate(-25 526 278)"/>
</g>
<!-- falling petals -->
<g transform="translate(30,400) scale(0.166667)" stroke="#1c0a12" stroke-width="16" stroke-linecap="round" stroke-linejoin="round">
  <path d="M240,430 C235,385 270,365 310,375 C360,385 395,440 385,545 C375,520 365,500 340,492 C300,480 250,480 240,430 Z" fill="#fbc5d2"/>
  <path d="M385,545 C380,520 365,500 345,493" fill="none"/>
  <path d="M195,765 C170,800 165,850 205,885 C240,915 280,905 300,928 C295,880 300,830 270,800 C250,780 225,775 195,765 Z" fill="#c2185f"/>
</g>

<!-- icon 02_citrus.svg -->
<g transform="translate(150,350) scale(0.176)" stroke="#17110a" stroke-width="16" stroke-linecap="round" stroke-linejoin="round" fill="none">
  <!-- orange -->
  <circle cx="383" cy="236" r="169" fill="#f7a65c"/>
  <g fill="#f4632f" stroke-width="14">
    <path d="M352,205 C330,180 290,150 262,140 C280,115 305,100 325,98 C345,130 352,170 352,205 Z"/>
    <path d="M385,195 C385,160 392,125 410,98 C445,105 480,125 498,155 C470,180 420,195 385,195 Z"/>
    <path d="M395,235 C430,225 475,222 508,225 C512,262 500,300 478,325 C445,305 410,265 395,235 Z"/>
    <path d="M360,262 C385,290 405,325 412,355 C395,368 370,372 352,372 C345,335 350,295 360,262 Z"/>
  </g>
  <!-- lemon -->
  <path d="M148,128 C140,108 118,102 100,115 C82,128 84,152 98,165 C60,245 62,340 130,405 C180,450 235,455 278,462 C290,488 320,495 338,478 C355,462 350,440 335,428 C352,370 352,290 305,215 C265,155 200,132 148,128 Z" fill="#ffe352"/>
  <g fill="#17110a" stroke="none"><circle cx="143" cy="348" r="11"/><circle cx="202" cy="361" r="11"/><circle cx="172" cy="400" r="11"/></g>
  <!-- drops -->
  <g fill="#f7a65c" stroke-width="14">
    <path d="M250,800 C215,760 170,745 148,765 C130,790 150,815 185,812 C210,810 230,800 250,800 Z"/>
    <path d="M318,775 C335,735 325,700 300,695 C275,698 278,725 292,745 C302,760 310,765 318,775 Z"/>
    <path d="M385,790 C420,790 430,850 405,900 C375,955 300,985 240,965 C205,950 205,925 230,915 C300,890 350,850 385,790 Z"/>
  </g>
  <g fill="#f4632f" stroke-width="11">
    <path d="M365,850 C375,830 385,818 390,812 C405,830 408,855 402,872 Z" transform="translate(-12,-2)"/>
    <path d="M312,870 C335,880 360,895 378,912 C360,935 335,945 318,940 C310,920 308,895 312,870 Z"/>
    <path d="M285,895 C290,915 292,935 288,950 C270,950 250,945 240,935 C255,920 270,905 285,895 Z"/>
  </g>
</g>

<!-- icon 03_wood.svg -->
<g transform="translate(275,380) scale(0.138889)" stroke="#160d08" stroke-width="20" stroke-linecap="round" stroke-linejoin="round" fill="none">
  <!-- log body -->
  <path d="M195,240 C175,180 260,100 400,92 C430,90 445,100 455,115 L665,420 C672,440 660,455 640,470 L470,572 C445,580 430,570 415,550 L250,300 Z" fill="#7b4b20"/>
  <!-- end face -->
  <path d="M200,245 C180,190 270,105 395,95 C440,92 450,125 420,155 C380,195 290,250 200,245 Z" fill="#f3e3b3"/>
  <path d="M265,190 C290,165 340,150 370,150" stroke="#d9c58a" stroke-width="14"/>
  <!-- branch -->
  <path d="M470,255 C510,290 560,290 600,270 C630,255 660,245 680,255 C700,270 690,300 665,305 C620,315 580,330 545,355 C520,375 495,380 470,372" fill="#7b4b20"/>
  <path d="M450,340 C470,375 500,385 530,370 M425,390 C455,420 490,420 520,400 L560,470 M500,470 L545,535"/>
  <!-- leaf on branch -->
  <path d="M610,275 C570,240 560,190 600,165 C625,150 640,140 645,120 C670,170 665,240 610,275 Z" fill="#5f8b3d"/>
  <!-- acorn nut -->
  <path d="M105,395 C90,470 130,560 225,565 C310,565 360,500 352,430 Z" fill="#f8b7aa"/>
  <!-- acorn cap -->
  <path d="M100,385 C80,330 130,270 215,255 C300,245 370,300 385,395 C375,425 330,435 290,430 C220,420 150,410 100,385 Z" fill="#a24354"/>
  <g stroke-width="14">
    <path d="M150,300 C190,350 250,400 320,430"/>
    <path d="M215,258 C250,310 310,370 380,400"/>
    <path d="M110,370 C150,340 190,300 215,258"/>
    <path d="M190,410 C230,370 270,320 290,268"/>
    <path d="M290,430 C320,400 340,360 350,320"/>
  </g>
  <!-- falling leaves -->
  <g fill="#6f9c5b" stroke-width="17">
    <path d="M258,722 C270,690 265,640 318,600 C325,650 310,700 258,722 Z"/>
    <path d="M395,730 C385,690 390,640 330,605 C325,660 345,705 395,730 Z"/>
    <path d="M360,940 C390,890 440,890 465,842 C490,900 440,960 360,940 Z"/>
  </g>
</g>

<!-- icon 04_peach.svg -->
<g transform="translate(395,375) scale(0.217391)" stroke="#170b0d" stroke-width="13.5" stroke-linecap="round" stroke-linejoin="round" fill="none">
  <!-- pear -->
  <path d="M385,100 C392,75 400,58 417,45"/>
  <path d="M300,190 C305,140 335,100 380,98 C425,98 440,140 440,185 C440,230 465,260 465,305 C462,360 420,392 370,390 C320,388 290,350 300,300 Z" fill="#fbe4b7"/>
  <g fill="#170b0d" stroke="none"><circle cx="412" cy="290" r="9"/><circle cx="383" cy="326" r="9"/><circle cx="416" cy="326" r="9"/></g>
  <!-- leaves -->
  <path d="M80,498 C85,460 95,430 110,408 C150,400 185,400 212,405 C215,440 195,475 160,488 C130,498 105,490 80,498 Z" fill="#e2476f"/>
  <path d="M215,402 C245,380 290,372 340,370 C355,390 365,410 375,432 C340,428 320,440 290,442 C255,442 225,430 215,402 Z" fill="#e2476f"/>
  <!-- peach -->
  <path d="M135,152 C190,140 280,170 325,235 C370,300 350,370 295,395 C255,412 215,405 195,395 C150,425 90,415 60,365 C30,310 60,220 135,152 Z" fill="#fba5b4"/>
  <path d="M135,152 C75,215 40,300 65,365 C95,420 155,420 195,395 C180,380 165,360 168,338 C120,330 100,250 135,152 Z" fill="#f9869f" stroke="none"/>
  <path d="M135,152 C190,140 280,170 325,235 C370,300 350,370 295,395 C255,412 215,405 195,395 C150,425 90,415 60,365 C30,310 60,220 135,152 Z"/>
  <path d="M215,400 C185,390 160,365 168,338"/>
  <!-- drop -->
  <path d="M265,775 C255,740 275,705 305,705 C330,710 325,740 300,748 C280,755 272,762 265,775 Z" fill="#fba5b4"/>
  <!-- slice -->
  <path d="M180,808 C150,830 145,890 185,930 C240,985 340,975 372,920 C385,895 380,870 360,870 C300,880 230,860 180,808 Z" fill="#f9869f"/>
  <path d="M180,808 C205,860 260,905 372,905 C380,885 375,870 360,870 C300,880 230,860 180,808 Z" fill="#fba5b4" stroke="none"/>
  <path d="M180,808 C150,830 145,890 185,930 C240,985 340,975 372,920 C385,895 380,870 360,870 C300,880 230,860 180,808 Z"/>
  <path d="M225,850 C235,875 265,885 300,882"/>
</g>

<!-- icon 05_spice.svg -->
<g transform="translate(525,540) scale(0.138889)" stroke="#190d08" stroke-width="20" stroke-linecap="round" stroke-linejoin="round" fill="none">
  <!-- cinnamon stick -->
  <path d="M590,100 C600,85 635,90 630,115 L560,310 L500,300 Z" fill="#a5632c"/>
  <path d="M603,125 L540,285" stroke="#6a3b18" stroke-width="10"/>
  <!-- pile -->
  <path d="M340,85 C365,85 390,115 420,150 C470,215 500,290 520,355 C535,415 530,465 490,482 C400,512 270,512 195,488 C140,468 100,440 108,405 C120,365 165,335 195,285 C220,240 240,185 275,140 C295,110 320,85 340,85 Z" fill="#6b3b2b"/>
  <g fill="#1d0d08" stroke="none"><circle cx="183" cy="365" r="17"/><circle cx="228" cy="372" r="10"/><circle cx="211" cy="418" r="11"/><circle cx="290" cy="403" r="11"/><circle cx="220" cy="305" r="8"/></g>
  <!-- cube -->
  <path d="M505,395 C495,375 510,355 530,340 L610,295 C630,285 650,295 665,310 L725,385 C740,405 735,430 725,450 C715,470 690,478 660,485 L580,500 C555,503 540,490 530,470 Z" fill="#f6de6d"/>
  <path d="M640,435 C670,440 685,420 682,390" stroke-width="15"/>
  <circle cx="598" cy="455" r="10" fill="#190d08" stroke="none"/>
  <!-- dots -->
  <g fill="#1d0d08" stroke="none"><circle cx="268" cy="577" r="20"/><circle cx="297" cy="613" r="10"/><circle cx="235" cy="655" r="13"/></g>
  <!-- star anise -->
  <g fill="#a2572f" stroke-width="15">
    <path d="M395,800 C345,775 310,735 330,678 C385,695 415,745 395,800 Z"/>
    <path d="M405,800 C390,750 420,700 482,688 C495,745 455,790 405,800 Z"/>
    <path d="M410,808 C445,770 505,760 552,792 C520,840 455,840 410,808 Z"/>
    <path d="M408,815 C460,820 505,865 500,925 C440,915 400,870 408,815 Z"/>
    <path d="M400,818 C420,870 400,930 360,965 C320,915 345,850 400,818 Z"/>
    <path d="M392,812 C355,845 295,855 250,825 C275,775 345,770 392,812 Z"/>
  </g>
  <circle cx="400" cy="810" r="14" fill="#190d08" stroke="none"/>
</g>

<!-- icon 06_wave.svg -->
<defs><clipPath id="wclip"><path d="M0,0 H800 V452 H558 V1100 H0 Z"/></clipPath></defs>
<g transform="translate(660,590) scale(0.148248)" stroke="#0a1018" stroke-width="18.5" stroke-linecap="round" stroke-linejoin="round" fill="none" clip-path="url(#wclip)">
  <!-- big wave: blue body incl. foam area -->
  <path d="M600,775 C430,745 250,650 150,500 C70,370 70,200 190,125 C270,80 390,90 430,150 C455,195 430,235 395,235 C385,238 375,235 368,230 L420,325 C370,360 330,420 342,480 C352,530 385,570 420,610 C470,660 530,705 600,740 Z" fill="#8fd9f6" stroke="none"/>
  <!-- big wave foam -->
  <path d="M232,342 C262,340 295,315 298,278 C330,285 360,265 368,232 L420,325 C370,360 330,420 342,480 C348,510 358,535 372,555 C310,500 260,430 232,342 Z" fill="#fbfdff" stroke="none"/>
  <!-- big outlines -->
  <path d="M600,775 C430,745 250,650 150,500 C70,370 70,200 190,125 C270,80 390,90 430,150 C455,195 430,235 395,235 C385,238 375,235 368,230"/>
  <path d="M232,345 C255,430 310,500 372,555"/>
  <path d="M300,290 C310,330 330,365 352,392"/>
  <path d="M370,240 C382,285 395,310 418,328"/>
  <path d="M300,178 C345,170 375,215 350,250 C340,268 320,278 298,275"/>
  <path d="M225,242 C268,238 295,280 275,315 C265,332 250,338 232,340"/>
  <path d="M172,328 C190,340 215,345 235,338"/>
  <!-- small wave blue -->
  <path d="M420,325 C450,305 530,295 580,325 C625,355 640,400 618,435 C605,452 585,452 570,447 L600,700 L600,745 C530,705 470,660 420,610 C385,570 352,530 342,480 C330,420 370,360 420,325 Z" fill="#8fd9f6" stroke="none"/>
  <!-- small wave foam -->
  <path d="M445,505 C470,495 482,480 484,470 C500,478 520,476 535,470 C550,465 562,455 570,447 L600,450 L600,690 C540,650 490,600 462,552 C455,535 450,520 445,505 Z" fill="#fbfdff" stroke="none"/>
  <!-- small outlines -->
  <path d="M600,745 C530,705 470,660 420,610 C385,570 352,530 342,480 C330,420 370,360 420,325 C450,305 530,295 580,325 C625,355 640,400 618,435 C605,452 585,452 570,447"/>
  <path d="M445,505 C455,550 500,620 600,690"/>
  <path d="M520,485 C528,530 545,560 560,585"/>
  <path d="M525,375 C560,385 578,418 560,448 C550,465 535,472 520,475 C505,477 492,474 485,470"/>
  <path d="M440,412 C475,420 492,450 475,480 C468,495 455,502 445,505 C430,505 418,502 405,500"/>
  <!-- bubbles -->
  <circle cx="265" cy="775" r="55" fill="#fbfdff"/>
  <circle cx="342" cy="895" r="35" fill="#fbfdff"/>
</g>

<!-- icon 07_leaf.svg -->
<g transform="translate(785,655) scale(0.129590)" stroke="#0c140a" stroke-width="21" stroke-linecap="round" stroke-linejoin="round" fill="none">
  <!-- big leaf -->
  <path d="M158,164 C120,230 100,300 109,370 C112,440 130,490 158,518 C180,538 200,548 222,555 C225,530 228,512 238,502 C250,485 270,478 286,480 C310,484 328,495 334,512 C340,530 340,550 340,571 C370,592 395,612 420,630 C440,600 450,570 452,545 C462,500 468,470 463,437 C455,395 440,365 420,341 C395,310 370,295 345,282 C315,270 290,265 265,260 C235,252 212,240 195,223 C178,205 165,185 158,164 Z" fill="#5f8d22"/>
  <path d="M232,335 C290,390 330,415 356,427 C400,450 430,460 455,462 C450,400 430,360 400,325 C360,300 300,300 250,290 C240,300 235,318 232,335 Z" fill="#7ba62f" stroke="none"/>
  <path d="M174,250 C238,330 300,390 356,427 C400,450 430,460 455,464"/>
  <path d="M235,332 C205,400 195,470 210,540"/>
  <path d="M340,418 C390,450 420,520 420,610"/>
  <path d="M185,262 C240,290 300,295 352,290" stroke-width="14"/>
  <!-- blade D (teal) -->
  <path d="M530,612 C560,520 620,400 700,340 C750,305 800,295 850,290 C790,320 740,370 700,440 C660,520 640,600 560,625 Z" fill="#6fc5b1"/>
  <path d="M610,430 C660,360 740,310 850,290 C790,320 740,370 700,440 Z" fill="#4f8a5a" stroke="none"/>
  <path d="M530,612 C560,520 620,400 700,340 C750,305 800,295 850,290 C790,320 740,370 700,440 C660,520 640,600 560,625 Z"/>
  <!-- blade B (grey green) -->
  <path d="M540,420 C500,340 490,250 478,165 C520,190 560,220 555,280 C550,330 545,380 540,420 Z" fill="#7f8d56"/>
  <!-- blade C (yellow-green) -->
  <path d="M550,490 C530,380 560,260 620,180 C655,135 695,100 725,75 C690,170 670,260 640,340 C615,405 585,450 550,490 Z" fill="#cee95b"/>
  <!-- blade A (light green) -->
  <path d="M320,205 C400,250 470,330 500,420 C520,480 540,560 520,605 C470,560 450,470 420,390 C395,320 360,260 320,205 Z" fill="#c0e37c"/>
  <path d="M520,605 C545,615 560,622 575,618"/>
  <!-- small leaf -->
  <path d="M335,848 C345,790 380,730 478,705 C490,770 450,850 335,848 Z" fill="#5f8d2c"/>
  <path d="M345,840 C380,800 420,760 470,715" stroke-width="10"/>
</g>

<!-- icon 08_lavender.svg -->
<g transform="translate(910,660) scale(0.129590)" stroke="#12091a" stroke-width="21" stroke-linecap="round" stroke-linejoin="round" fill="none">
  <!-- stems -->
  <path d="M478,565 C500,650 540,740 582,812"/>
  <path d="M530,575 C550,650 580,720 618,788"/>
  <!-- leaf -->
  <path d="M580,655 C545,590 545,470 610,400 C660,350 730,345 750,308 C790,400 790,520 720,580 C680,615 620,625 580,655 Z" fill="#9da8e8"/>
  <path d="M585,640 C580,560 620,480 685,432"/>
  <!-- dark sprig -->
  <g fill="#6c40a1">
    <ellipse cx="500" cy="515" rx="48" ry="50"/>
    <ellipse cx="438" cy="478" rx="42" ry="48"/>
    <ellipse cx="522" cy="440" rx="42" ry="52"/>
    <ellipse cx="420" cy="395" rx="44" ry="50"/>
    <ellipse cx="528" cy="345" rx="42" ry="52"/>
    <ellipse cx="402" cy="308" rx="46" ry="48"/>
    <ellipse cx="518" cy="250" rx="46" ry="52"/>
    <ellipse cx="388" cy="232" rx="46" ry="46"/>
    <ellipse cx="452" cy="150" rx="58" ry="58"/>
    <path d="M400,220 L520,220 L540,500 L430,500 Z" stroke="none"/>
  </g>
  <g stroke-width="17">
    <path d="M420,250 C440,235 470,240 482,262"/>
    <path d="M470,330 C485,312 515,312 528,330"/>
    <path d="M415,345 C432,332 458,338 466,358"/>
    <path d="M480,430 C495,412 520,415 530,432"/>
    <path d="M430,440 C445,428 468,432 476,452"/>
    <path d="M455,205 C470,190 495,195 505,212"/>
  </g>
  <!-- light sprig -->
  <g fill="#dccbf0">
    <ellipse cx="352" cy="618" rx="72" ry="48" transform="rotate(-15 352 618)"/>
    <ellipse cx="412" cy="545" rx="48" ry="62" transform="rotate(15 412 545)"/>
    <ellipse cx="255" cy="555" rx="66" ry="50" transform="rotate(20 255 555)"/>
    <ellipse cx="330" cy="452" rx="52" ry="60" transform="rotate(-20 330 452)"/>
    <ellipse cx="165" cy="462" rx="70" ry="50" transform="rotate(20 165 462)"/>
    <ellipse cx="250" cy="348" rx="52" ry="58" transform="rotate(-20 250 348)"/>
    <ellipse cx="120" cy="355" rx="66" ry="50" transform="rotate(15 120 355)"/>
    <ellipse cx="145" cy="255" rx="62" ry="56" transform="rotate(-30 145 255)"/>
    <path d="M150,290 L260,380 L340,480 L400,600 L330,620 L240,540 L160,440 L130,350 Z" stroke="none"/>
  </g>
  <g stroke-width="17">
    <path d="M120,400 C160,395 200,410 225,440"/>
    <path d="M215,500 C250,490 290,505 310,535"/>
    <path d="M300,580 C330,570 365,580 385,600"/>
    <path d="M195,310 C215,330 225,360 222,390"/>
    <path d="M285,400 C300,425 305,455 298,480"/>
    <path d="M375,490 C385,510 388,530 382,552"/>
  </g>
</g>

<!-- icon 09_moss.svg -->
<g transform="translate(1045,675) scale(0.115789)" stroke="#140f08" stroke-width="24" stroke-linecap="round" stroke-linejoin="round" fill="none">
  <!-- dark leaf -->
  <path d="M490,390 C440,290 470,170 605,120 C560,200 550,300 520,395 Z" fill="#507b2f"/>
  <!-- yellow arch leaf -->
  <path d="M495,490 C480,400 520,300 610,265 C660,250 700,290 725,335 C680,310 640,310 605,350 C570,395 550,450 540,500 Z" fill="#d5cd3f"/>
  <!-- olive leaf -->
  <path d="M235,332 C275,290 300,240 335,240 C400,255 440,330 470,410 L420,420 C400,380 370,330 330,318 C300,312 270,330 235,332 Z" fill="#7f904b"/>
  <!-- wood piece big -->
  <path d="M610,580 C640,520 660,440 655,385 C660,350 700,340 740,350 C785,365 795,400 780,430 C765,470 745,500 740,520 C760,510 780,490 795,485 C815,490 810,520 790,535 C760,555 735,570 720,600 C710,625 690,625 670,615 C650,605 625,595 610,580 Z" fill="#8c7456"/>
  <path d="M700,520 C715,522 730,520 742,518"/>
  <!-- wood stick -->
  <path d="M495,575 C480,550 495,530 520,515 L590,455 C610,435 640,440 650,462 C660,485 650,505 630,520 L570,580 C545,605 510,600 495,575 Z" fill="#8c7456"/>
  <path d="M592,455 C605,470 620,495 630,520"/>
  <!-- fruit -->
  <ellipse cx="325" cy="500" rx="155" ry="115" fill="#f3b23f" transform="rotate(-6 325 500)"/>
  <circle cx="230" cy="527" r="14" fill="#4a1a10" stroke="none"/>
  <path d="M280,546 L345,550" stroke="#4a1a10" stroke-width="24"/>
</g>

<!-- icon 10_choc.svg -->
<g transform="translate(1180,720) scale(0.083333)" stroke="#1a0a0a" stroke-width="33" stroke-linecap="round" stroke-linejoin="round" fill="none">
  <!-- stream -->
  <path d="M415,640 L700,420 L900,480 C850,600 825,700 820,795 H455 C455,730 440,690 415,640 Z" fill="#804845" stroke="none"/>
  <!-- candy -->
  <path d="M760,310 L672,190 C700,165 735,150 765,150 L800,275 Z" fill="#f88fa8"/>
  <path d="M905,490 L1040,500 C1072,508 1082,530 1060,560 L940,638 C925,600 915,550 905,490 Z" fill="#f88fa8"/>
  <circle cx="865" cy="385" r="128" fill="#f88fa8"/>
  <!-- chocolate bar -->
  <path d="M180,290 C175,275 180,262 195,252 L385,105 C400,95 415,100 420,115 C440,170 495,190 540,165 C565,150 590,140 610,155 L790,455 C800,475 795,490 775,500 L485,680 C465,690 450,685 440,665 Z" fill="#6c3b37"/>
  <g stroke-width="26">
    <path d="M285,290 L350,245 C365,238 378,240 388,255 L425,320 C432,335 428,348 415,356 L355,392 C340,398 328,394 320,380 L280,320 C275,308 277,297 285,290 Z"/>
    <path d="M425,450 L490,412 C505,405 518,408 526,422 L575,520 C580,535 576,548 563,556 L500,590 C485,596 473,592 466,578 L420,482 C416,468 418,457 425,450 Z"/>
    <path d="M470,215 C480,250 520,275 560,262 L585,300 L520,340 C505,346 493,342 486,330 L450,262 Z"/>
    <path d="M585,355 L640,322 L700,430 C706,444 702,456 690,463 L655,482 C640,488 628,484 621,470 Z"/>
  </g>
</g>

<!-- icon 11_leather.svg -->
<g transform="translate(1315,720) scale(0.083333)" stroke="#15120a" stroke-width="33" stroke-linecap="round" stroke-linejoin="round" fill="none">
  <!-- stream -->
  <path d="M440,795 C440,740 450,700 470,640 L600,520 L830,600 C820,680 820,740 820,795 Z" fill="#8f8b2f" stroke="none"/>
  <!-- upper sheet -->
  <path d="M520,400 C560,330 580,240 590,175 C600,150 640,150 690,170 C730,185 725,215 700,240 C680,270 700,300 740,290 C770,280 780,270 790,290 C810,340 830,400 815,470 L640,520 Z" fill="#dacca1"/>
  <!-- dark leaf -->
  <path d="M835,385 C900,360 960,400 1000,450 C1020,470 1040,480 1060,485 C1020,540 960,590 890,575 C850,565 830,520 825,470 C822,440 825,410 835,385 Z" fill="#80905a"/>
  <!-- roll body -->
  <path d="M262,565 C300,530 420,470 470,440 C520,410 560,440 590,500 C610,545 600,580 570,600 L430,740 C380,760 330,740 290,690 C260,650 250,600 262,565 Z" fill="#dacca1"/>
  <path d="M262,570 C300,545 350,590 385,650 C410,700 420,735 400,750 C360,760 310,720 285,680 C258,640 248,595 262,570 Z" fill="#cfc6ae"/>
  <!-- band -->
  <path d="M440,400 C470,370 520,375 550,410 C590,460 620,520 600,575 C580,560 560,520 540,490 C515,450 480,420 440,400 Z" fill="#dacca1"/>
  <!-- light leaf -->
  <path d="M600,590 C600,530 660,495 730,500 C800,505 850,560 870,620 C880,660 870,700 855,715 C830,690 790,670 740,672 C690,675 640,665 600,590 Z" fill="#aab971"/>
</g>

</svg>
<p class="foot">数据来源：颖通×艾瑞《中国香水行业研究白皮书1.0》</p>
</body>
</html>
